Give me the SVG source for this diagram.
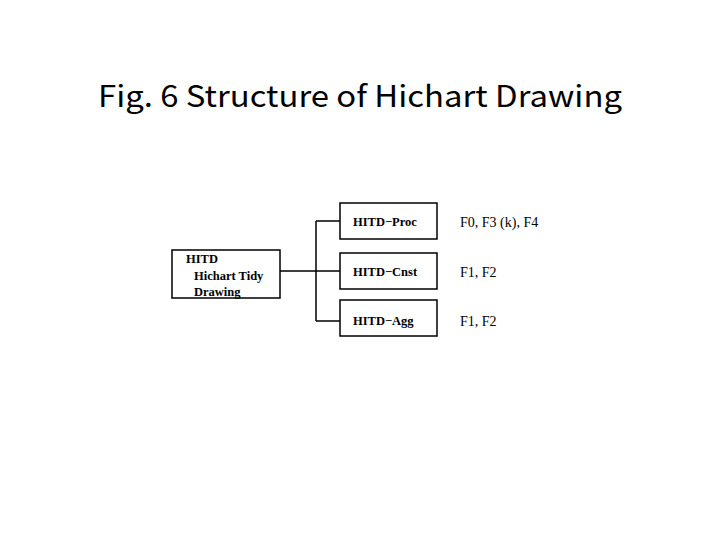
<svg xmlns="http://www.w3.org/2000/svg" width="720" height="540" viewBox="0 0 720 540">
<style>
.b{fill:#fff;stroke:#000;stroke-width:1.5}
.t{font-family:"Liberation Serif",serif;font-weight:bold;font-size:12.5px}
.l{font-family:"Liberation Serif",serif;font-size:14px}
.c{stroke:#000;stroke-width:1.5;fill:none}
</style>
<rect width="720" height="540" fill="#fff"/>
<text x="98" y="107" textLength="524" lengthAdjust="spacingAndGlyphs" font-family="Noto Sans CJK JP,sans-serif" font-size="30">Fig. 6 Structure of Hichart Drawing</text>
<g id="connectors">
<path class="c" d="M280 271H340M316 221V321M316 221H340M316 321H340"/>
</g>
<g id="root"><rect class="b" x="172" y="250" width="108" height="48"/>
<text class="t" x="186" y="263">HITD</text><text class="t" x="194" y="280">Hichart Tidy</text><text class="t" x="194" y="296">Drawing</text></g>
<g id="proc"><rect class="b" x="340" y="203" width="97" height="36"/><text class="t" x="353" y="226">HITD−Proc</text></g>
<g id="cnst"><rect class="b" x="340" y="253" width="97" height="36"/><text class="t" x="353" y="276">HITD−Cnst</text></g>
<g id="agg"><rect class="b" x="340" y="300" width="97" height="36"/><text class="t" x="353" y="325">HITD−Agg</text></g>
<text class="l" x="460" y="227">F0,  F3 (k), F4</text>
<text class="l" x="460" y="277">F1,  F2</text>
<text class="l" x="460" y="326">F1,  F2</text>
</svg>
